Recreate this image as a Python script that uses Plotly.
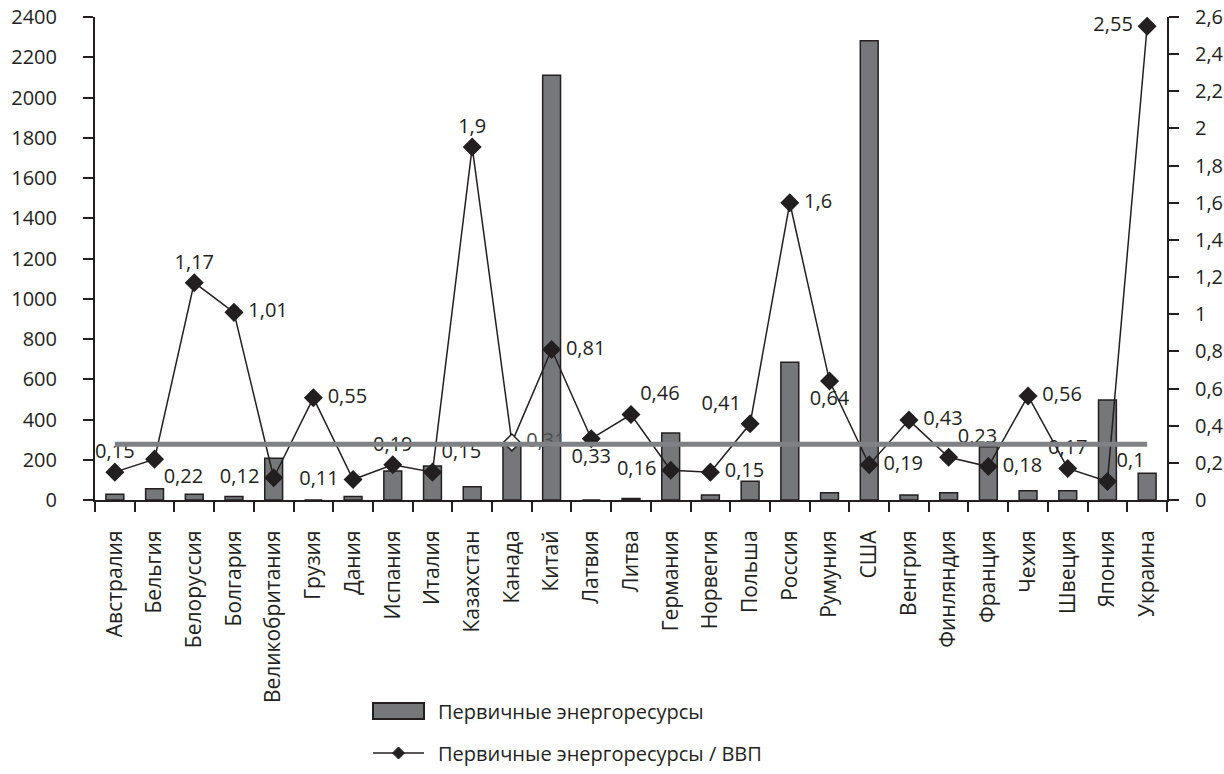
import plotly.graph_objects as go

# ---------------- data ----------------
countries = ["Австралия", "Бельгия", "Белоруссия", "Болгария", "Великобритания",
             "Грузия", "Дания", "Испания", "Италия", "Казахстан", "Канада", "Китай",
             "Латвия", "Литва", "Германия", "Норвегия", "Польша", "Россия", "Румуния",
             "США", "Венгрия", "Финляндия", "Франция", "Чехия", "Швеция", "Япония",
             "Украина"]

primary_energy = [28, 56, 28, 17, 207, 0, 17, 144, 169, 66, 275, 2111, 0, 8, 333,
                  25, 93, 684, 36, 2282, 25, 36, 265, 46, 46, 497, 133]

energy_per_gdp = [0.15, 0.22, 1.17, 1.01, 0.12, 0.55, 0.11, 0.19, 0.15, 1.9, 0.31,
                  0.81, 0.33, 0.46, 0.16, 0.15, 0.41, 1.6, 0.64, 0.19, 0.43, 0.23,
                  0.18, 0.56, 0.17, 0.1, 2.55]

label_pos = ["top center", "bottom right", "top center", "middle right", "middle left",
             "middle right", "middle left", "top center", "top right", "top center",
             "middle right", "middle right", "bottom center", "top right", "middle left",
             "middle right", "top left", "middle right", "bottom center", "middle right",
             "middle right", "top right", "middle right", "middle right", "top center",
             "top right", "middle left"]

reference_level = [0.3] * len(countries)

left_ticks = [0, 200, 400, 600, 800, 1000, 1200, 1400, 1600, 1800, 2000, 2200, 2400]
right_ticks = [0, 0.2, 0.4, 0.6, 0.8, 1, 1.2, 1.4, 1.6, 1.8, 2, 2.2, 2.4, 2.6]

legend_bar = "Первичные энергоресурсы"
legend_line = "Первичные энергоресурсы / ВВП"

# ---------------- style ----------------
FONT = "Open Sans"
INK = "#231f20"
BAR = "#76777b"
AVG = "#808184"
W, H = 1224, 774
ML, MR, MT, MB = 95, 57, 17, 274
PW, PH = W - ML - MR, H - MT - MB
NB = "\u00a0"


def fmt(v):
    return ("%g" % v).replace(".", ",")


def label(v, pos):
    s = fmt(v)
    if pos == "middle right":
        return NB + s
    if pos == "middle left":
        return s + NB
    return s


def px(x):
    return (x - ML) / PW


def py(y):
    return (H - MB - y) / PH


n = len(countries)
marker_fill = [("white" if c == "Канада" else INK) for c in countries]
text_col = [("#4d4d50" if c == "Канада" else INK) for c in countries]

fig = go.Figure()

fig.add_trace(go.Bar(
    x=countries, y=primary_energy, name=legend_bar,
    marker=dict(color=BAR, line=dict(color=INK, width=1.5)),
    showlegend=False, hoverinfo="x+y",
))

fig.add_trace(go.Scatter(
    x=countries, y=energy_per_gdp, yaxis="y2", name=legend_line,
    mode="lines+markers+text",
    line=dict(color=INK, width=1.5),
    marker=dict(symbol="diamond", size=13, color=marker_fill,
                line=dict(color=INK, width=1.5)),
    text=[label(v, p) for v, p in zip(energy_per_gdp, label_pos)],
    textposition=label_pos,
    textfont=dict(family=FONT, size=20, color=text_col),
    showlegend=False, cliponaxis=False,
))

fig.add_trace(go.Scatter(
    x=countries, y=reference_level, yaxis="y2", mode="lines",
    line=dict(color=AVG, width=5), showlegend=False, hoverinfo="skip",
))

axis_common = dict(showgrid=False, zeroline=False, linecolor=INK, tickcolor=INK,
                   tickwidth=1.5, ticklen=10, automargin=False)

fig.update_layout(
    width=W, height=H, autosize=False,
    margin=dict(l=ML, r=MR, t=MT, b=MB, pad=0, autoexpand=False),
    paper_bgcolor="white", plot_bgcolor="white",
    font=dict(family=FONT, size=20, color=INK),
    bargap=0.55,
    xaxis=dict(type="category", categoryorder="array", categoryarray=countries,
               range=[-0.5, n - 0.5], showline=True, linewidth=2,
               ticks="outside", tickson="boundaries", tickangle=-90,
               tickfont=dict(size=21), ticklabelstandoff=20, **axis_common),
    xaxis2=dict(overlaying="x", anchor="y", side="bottom", type="linear",
                range=[-0.5, n - 0.5], tickvals=[i - 0.5 for i in range(n + 1)],
                ticks="inside", showticklabels=False, showline=False, **axis_common),
    yaxis=dict(range=[0, left_ticks[-1]], tickvals=left_ticks,
               ticktext=[str(v) for v in left_ticks], showline=True, linewidth=2,
               ticks="outside", tickfont=dict(size=20), ticklabelstandoff=22,
               **axis_common),
    yaxis3=dict(overlaying="y", anchor="x", side="left", range=[0, left_ticks[-1]],
                tickvals=left_ticks, ticks="inside", showticklabels=False,
                showline=False, **axis_common),
    yaxis2=dict(overlaying="y", anchor="x", side="right", range=[0, right_ticks[-1]],
                tickvals=right_ticks, ticktext=[fmt(v) for v in right_ticks],
                showline=True, linewidth=2, ticks="outside", tickfont=dict(size=20),
                ticklabelstandoff=12, **axis_common),
    yaxis4=dict(overlaying="y", anchor="x", side="right", range=[0, right_ticks[-1]],
                tickvals=right_ticks, ticks="inside", showticklabels=False,
                showline=False, **axis_common),
    showlegend=False,
)

# ---------------- custom legend ----------------
sx0, sx1 = 373, 424
fig.add_shape(type="rect", xref="paper", yref="paper",
              x0=px(sx0), x1=px(sx1), y0=py(719), y1=py(703),
              fillcolor=BAR, line=dict(color=INK, width=2))
fig.add_annotation(xref="paper", yref="paper", x=px(436), y=py(711),
                   xanchor="left", yanchor="middle", showarrow=False,
                   text=legend_bar, font=dict(family=FONT, size=20, color=INK))

ly = 753
fig.add_shape(type="line", xref="paper", yref="paper",
              x0=px(sx0), x1=px(sx1), y0=py(ly), y1=py(ly),
              line=dict(color=INK, width=1.5))
cx, r = (sx0 + sx1) / 2, 6
fig.add_shape(type="path", xref="paper", yref="paper",
              path=f"M {px(cx - r)},{py(ly)} L {px(cx)},{py(ly - r)} "
                   f"L {px(cx + r)},{py(ly)} L {px(cx)},{py(ly + r)} Z",
              fillcolor=INK, line=dict(color=INK, width=1))
fig.add_annotation(xref="paper", yref="paper", x=px(436), y=py(ly),
                   xanchor="left", yanchor="middle", showarrow=False,
                   text=legend_line, font=dict(family=FONT, size=20, color=INK))

fig.write_html("out.html",
               config={"displayModeBar": False},
               post_script="document.body.style.margin='0';"
                           "document.body.style.overflow='hidden';")
